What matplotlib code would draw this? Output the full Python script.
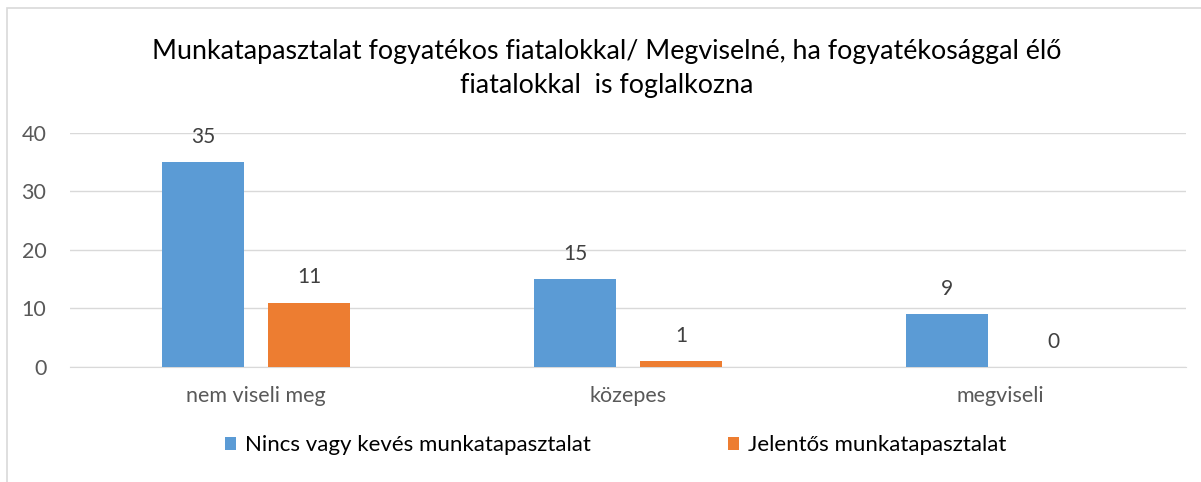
import numpy as np
from matplotlib import pyplot as plt
from matplotlib.patches import Rectangle

# data
categories = ['nem viseli meg', 'közepes', 'megviseli']
series_names = ['Nincs vagy kevés munkatapasztalat', 'Jelentős munkatapasztalat']
few_exp = [35, 15, 9]
much_exp = [11, 1, 0]
yticks = [0, 10, 20, 30, 40]
title = 'Munkatapasztalat fogyatékos fiatalokkal/ Megviselné, ha fogyatékosággal élő\nfiatalokkal  is foglalkozna'

plt.rcParams['font.family'] = ['Lato', 'DejaVu Sans']

fig = plt.figure(figsize=(12.01, 4.82), dpi=100)
ax = fig.add_axes([0.0583, 0.2386, 0.9292, 0.4855])

# chart border
fig.patches.append(Rectangle((7/1201, -0.1), 1.2, 1 - 8/482 + 0.1, transform=fig.transFigure,
                             fill=False, edgecolor='#d9d9d9', linewidth=1.2))

x = np.arange(len(categories))
w = 0.223
b1 = ax.bar(x - 0.1425, few_exp, w, color='#5b9bd5', label=series_names[0], zorder=3)
b2 = ax.bar(x + 0.1425, much_exp, w, color='#ed7d31', label=series_names[1], zorder=3)

for bars in (b1, b2):
    for r in bars:
        ax.annotate(str(int(r.get_height())), (r.get_x() + r.get_width()/2, r.get_height()),
                    xytext=(0, 11), textcoords='offset points', ha='center', va='bottom',
                    fontsize=15, color='#404040')

ax.set_xlim(-0.5, 2.5)
ax.set_ylim(0, 40)
ax.set_yticks(yticks)
ax.set_xticks(x)
ax.set_xticklabels(categories)
ax.yaxis.grid(True, color='#d9d9d9', linewidth=1)
ax.set_axisbelow(True)
for s in ['top', 'right', 'left']:
    ax.spines[s].set_visible(False)
ax.spines['bottom'].set_color('#d9d9d9')
ax.tick_params(axis='both', length=0, labelsize=15.5, labelcolor='#595959')
ax.tick_params(axis='x', pad=14)
ax.tick_params(axis='y', pad=17)

fig.text(0.505, 0.858, title, ha='center', va='center', fontsize=19.3, color='#000000',
         linespacing=1.45)

ax.legend(loc='center', bbox_to_anchor=(0.489, -0.335), ncol=2, frameon=False, fontsize=16,
          handlelength=0.5, handleheight=0.5, columnspacing=6.2, handletextpad=0.4)

fig.savefig('out.png', dpi=100)
